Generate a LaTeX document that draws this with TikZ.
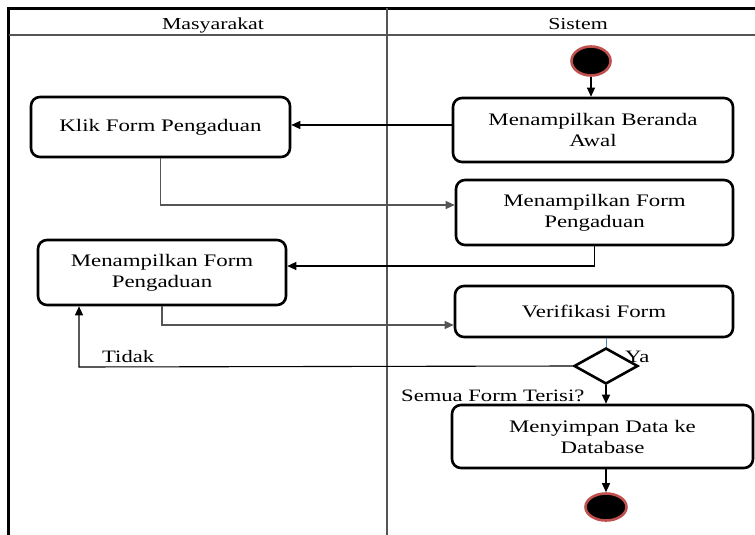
\documentclass[tikz,border=0pt]{standalone}
\usepackage{fontspec}
\setmainfont{Liberation Serif}[FakeStretch=1.3]
\usetikzlibrary{shapes.geometric, arrows.meta, positioning}
\definecolor{startred}{HTML}{C0504D}
\definecolor{flowblue}{HTML}{4F81BD}
\definecolor{lanegray}{HTML}{555555}

\begin{document}
\begin{tikzpicture}[
    x=1pt, y=-1pt,
    >={Triangle[length=9pt,width=8pt]},
    activity/.style={draw, line width=2.6pt, rounded corners=9pt, align=center,
        inner sep=2pt, font=\fontsize{17.6}{21}\selectfont},
    decision/.style={draw, diamond, line width=2.6pt, minimum width=64pt,
        minimum height=36pt, inner sep=0pt},
    terminal/.style={ellipse, draw=startred, fill=black, line width=2.6pt},
    lbl/.style={inner sep=0pt, font=\fontsize{17.4}{21}\selectfont},
    flow/.style={->, line width=1.1pt}
]
    \useasboundingbox (0,0) rectangle (755,535);

    % swimlane frame
    \draw[line width=3pt] (8.5,535) -- (8.5,8.5) -- (755,8.5);
    \draw[line width=1.5pt, lanegray] (8.5,35) -- (755,35);
    \draw[line width=1.3pt, lanegray] (387,8.5) -- (387,535);
    \node[lbl, anchor=base, font=\fontsize{16.8}{20}\selectfont] (hMas) at (213,30) {Masyarakat};
    \node[lbl, anchor=base, font=\fontsize{16.8}{20}\selectfont] (hSis) at (578,30) {Sistem};

    % activities
    \node[terminal, minimum width=39pt, minimum height=29pt] (start) at (591,61) {};
    \node[activity, minimum width=280pt, minimum height=64pt] (beranda) at (593,130)
        {Menampilkan Beranda\\Awal};
    \node[activity, minimum width=259pt, minimum height=60pt] (klik) at (160.5,127)
        {Klik Form Pengaduan};
    \node[activity, minimum width=277pt, minimum height=65pt] (formSis) at (594.5,212.5)
        {Menampilkan Form\\Pengaduan};
    \node[activity, minimum width=248pt, minimum height=65pt] (formMas) at (162,272.5)
        {Menampilkan Form\\Pengaduan};
    \node[activity, minimum width=278pt, minimum height=51pt] (verif) at (594,311.5)
        {Verifikasi Form};
    \node[decision] (cek) at (606,366) {};
    \node[activity, minimum width=301pt, minimum height=63pt] (simpan) at (602.5,436.5)
        {Menyimpan Data ke\\Database};
    \node[terminal, minimum width=41pt, minimum height=27pt] (stop) at (606,507) {};

    % labels
    \node[lbl, anchor=base west] (tTidak) at (102,362) {Tidak};
    \node[lbl, anchor=base west] (tYa) at (625,362) {Ya};
    \node[lbl, anchor=base west] (tSemua) at (401,401) {Semua Form Terisi?};

    % flows
    \coordinate (tBend) at (79,367);
    \draw[flow] (start.south) -- (start.south |- beranda.north);
    \draw[flow] ([yshift=5pt]beranda.west) -- ([yshift=5pt]beranda.west -| klik.east);
    \draw[flow, lanegray] (klik.south) |- ([yshift=7.5pt]formSis.west);
    \draw[flow] (formSis.south) |- ([yshift=6.5pt]formMas.east);
    \draw[flow, lanegray] (formMas.south) |- ([yshift=-13.5pt]verif.west);
    \draw[flowblue, line width=0.9pt] (verif.south -| cek.north) -- (cek.north);
    \draw[flow] (cek.west) -- (tBend) -- (tBend |- formMas.south);
    \draw[flow] (cek.south) -- (cek.south |- simpan.north);
    \draw[flow] (simpan.south -| stop.north) -- (stop.north);
\end{tikzpicture}
\end{document}
